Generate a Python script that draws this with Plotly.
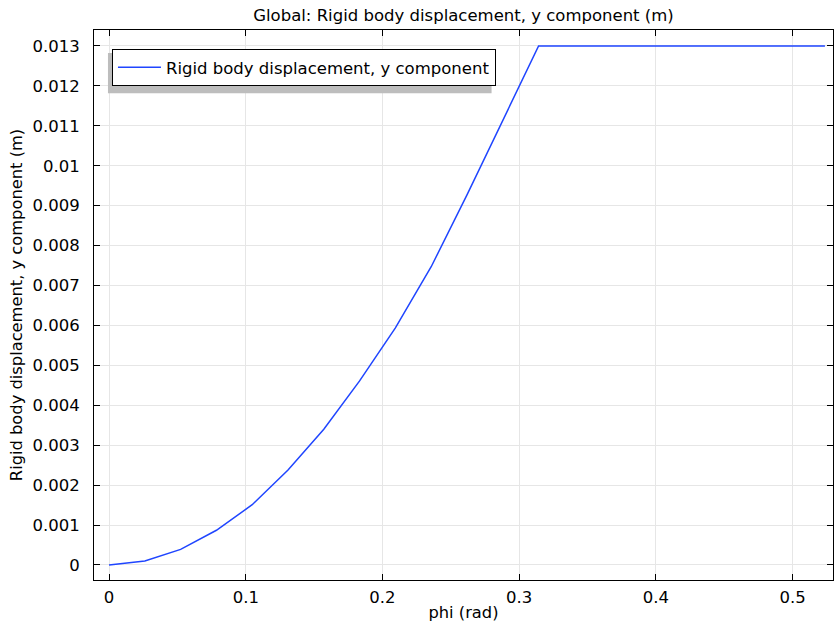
import plotly.graph_objects as go

phi = [0.0, 0.02618, 0.05236, 0.07854, 0.10472, 0.1309, 0.15708, 0.18326, 0.20944,
       0.23562, 0.2618, 0.28798, 0.31416, 0.5236]
disp_y = [0.0, 0.0001, 0.00039, 0.00087, 0.00151, 0.00238, 0.0034, 0.00461, 0.00594,
          0.00747, 0.00927, 0.01115, 0.013, 0.013]

series_name = "Rigid body displacement, y component"
title_text = "Global: Rigid body displacement, y component (m)"
x_label = "phi (rad)"
y_label = "Rigid body displacement, y component (m)"

x_ticks = [0, 0.1, 0.2, 0.3, 0.4, 0.5]
x_ticktext = ["0", "0.1", "0.2", "0.3", "0.4", "0.5"]
y_ticks = [0, 0.001, 0.002, 0.003, 0.004, 0.005, 0.006, 0.007, 0.008, 0.009, 0.01, 0.011, 0.012, 0.013]
y_ticktext = ["0", "0.001", "0.002", "0.003", "0.004", "0.005", "0.006", "0.007", "0.008",
              "0.009", "0.01", "0.011", "0.012", "0.013"]

FONT = "DejaVu Sans"

fig = go.Figure()
fig.add_trace(go.Scatter(x=phi, y=disp_y, mode="lines", name=series_name,
                         line=dict(color="#1f45ff", width=1.5)))

axis_common = dict(showline=True, linecolor="black", linewidth=1, mirror="ticks",
                   ticks="inside", ticklen=6, tickcolor="black", automargin=False,
                   showgrid=True, gridcolor="#e6e6e6", gridwidth=1, zeroline=False,
                   tickfont=dict(family=FONT, size=16.5, color="black"))

fig.update_layout(
    width=834, height=626,
    margin=dict(l=94, r=1, t=30, b=46),
    paper_bgcolor="white", plot_bgcolor="white",
    title=dict(text=title_text, x=0.5, xref="paper", y=1 - 15 / 626, yanchor="middle",
               font=dict(family=FONT, size=16.5, color="black")),
    xaxis=dict(range=[-0.011, 0.5295], tickvals=x_ticks, ticktext=x_ticktext,
               ticklabelstandoff=2,
               title=dict(text=x_label, font=dict(family=FONT, size=16.3, color="black"), standoff=0),
               **axis_common),
    yaxis=dict(range=[-0.000376, 0.0134], tickvals=y_ticks, ticktext=y_ticktext,
               ticklabelstandoff=10,
               title=dict(text=y_label, font=dict(family=FONT, size=16.3, color="black"), standoff=5),
               **axis_common),
    showlegend=True,
    legend=dict(x=0.0243, y=0.9655, xanchor="left", yanchor="top", itemwidth=43,
                bgcolor="white", bordercolor="black", borderwidth=1,
                font=dict(family=FONT, size=16.5, color="black")),
)

# legend drop shadow
fig.add_shape(type="rect", xref="paper", yref="paper", x0=0.0189, x1=0.538, y0=0.885, y1=0.958,
              fillcolor="#bdbdbd", line=dict(width=0), layer="above")

fig.write_html("out.html", config={"displayModeBar": False},
               post_script="document.body.style.margin='0';")
